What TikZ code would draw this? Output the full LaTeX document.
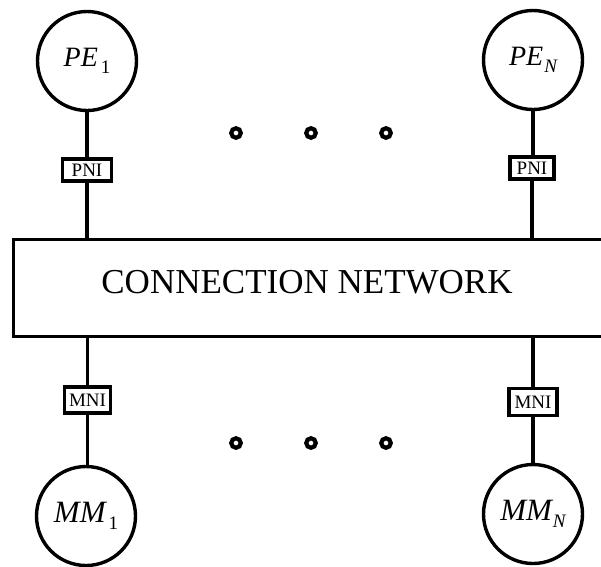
\documentclass[tikz,border=0pt]{standalone}
\usepackage{fontspec}
\setmainfont{Liberation Serif}
\newcommand{\lowsub}[1]{\raisebox{-7pt}{\fontsize{19}{19}\selectfont #1}}
\begin{document}
\begin{tikzpicture}[x=1pt,y=-1pt,
  unit/.style={circle,draw,line width=3.4pt,minimum size=99pt,inner sep=0pt,
    font=\fontsize{28}{28}\selectfont\itshape},
  iface/.style={rectangle,draw,line width=3.2pt,inner sep=0pt,
    font=\fontsize{19}{19}\selectfont},
  ring/.style={circle,draw,line width=4.2pt,minimum size=9.5pt,inner sep=0pt},
  wire/.style={line width=3.2pt}]
\useasboundingbox (0,0) rectangle (601,566);
\clip (0,0) rectangle (601,566);
% processing elements
\node[unit] (pe1) at (87,61) {PE\kern3pt\lowsub{\upshape 1}};
\node[unit] (peN) at (533,60) {PE\kern1pt\lowsub{N}};
% memory modules
\node[unit,font=\fontsize{31}{31}\selectfont\itshape] (mm1) at (86,516) {MM\kern3pt\lowsub{\upshape 1}};
\node[unit,font=\fontsize{31}{31}\selectfont\itshape] (mmN) at (533,514) {MM\kern1pt\lowsub{N}};
% interfaces
\node[iface,minimum width=49pt,minimum height=22pt] (pni1) at (87,170) {PNI};
\node[iface,minimum width=44pt,minimum height=22pt] (pniN) at (532,168) {PNI};
\node[iface,minimum width=46pt,minimum height=26pt] (mni1) at (87.5,400) {MNI};
\node[iface,minimum width=48pt,minimum height=27pt] (mniN) at (533,402) {MNI};
% connection network (extends past the right edge)
\node[rectangle,draw,line width=3.2pt,minimum width=620pt,minimum height=97pt,inner sep=0pt]
  (net) at (323.5,288) {};
\node[anchor=base,font=\fontsize{35}{35}\selectfont,inner sep=0pt] (netlabel) at (307,293) {CONNECTION NETWORK};
% wires
\draw[wire] (pe1.south) -- (pni1.north);
\draw[wire] (pni1.south) -- (pni1.south |- net.north);
\draw[wire] (peN.south) -- (peN.south |- pniN.north);
\draw[wire] (pniN.south) -- (pniN.south |- net.north);
\draw[wire] (mni1.north |- net.south) -- (mni1.north);
\draw[wire] (mni1.south) -- (mni1.south |- mm1.north);
\draw[wire] (mniN.north |- net.south) -- (mniN.north);
\draw[wire] (mniN.south) -- (mmN.north);
% ellipsis rings
\node[ring] (t1) at (236,133) {};
\node[ring] (t2) at (311,133) {};
\node[ring] (t3) at (386,133) {};
\node[ring] (b1) at (236,443) {};
\node[ring] (b2) at (311,443) {};
\node[ring] (b3) at (386,443) {};
\end{tikzpicture}
\end{document}
